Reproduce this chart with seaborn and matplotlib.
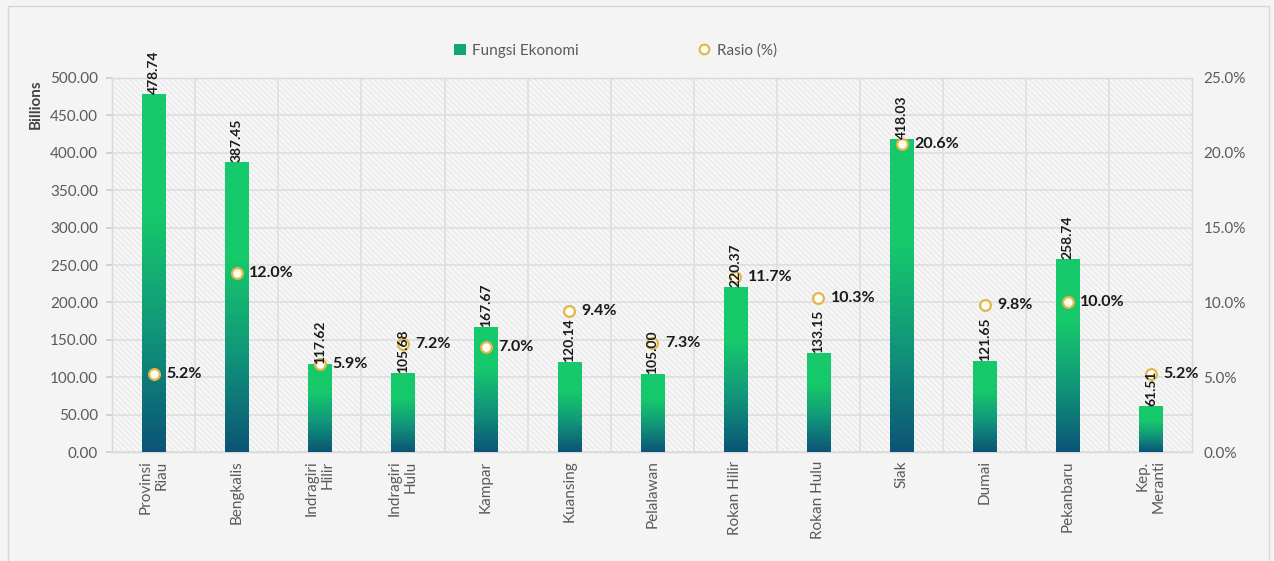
import numpy as np
import pandas as pd
import matplotlib
matplotlib.use("Agg")
import matplotlib.pyplot as plt
import seaborn as sns
from matplotlib.colors import LinearSegmentedColormap
from matplotlib.lines import Line2D
from matplotlib.patches import Patch, Rectangle

# ---------------- data ----------------
regions = ["Provinsi\nRiau", "Bengkalis", "Indragiri\nHilir", "Indragiri\nHulu", "Kampar",
           "Kuansing", "Pelalawan", "Rokan Hilir", "Rokan Hulu", "Siak", "Dumai",
           "Pekanbaru", "Kep.\nMeranti"]
fungsi_ekonomi = [478.74, 387.45, 117.62, 105.68, 167.67, 120.14, 105.00, 220.37,
                  133.15, 418.03, 121.65, 258.74, 61.51]
rasio = [5.2, 12.0, 5.9, 7.2, 7.0, 9.4, 7.3, 11.7, 10.3, 20.6, 9.8, 10.0, 5.2]
left_ticks = [0, 50, 100, 150, 200, 250, 300, 350, 400, 450, 500]
right_ticks = [0, 5, 10, 15, 20, 25]

df = pd.DataFrame({"region": regions, "fungsi": fungsi_ekonomi, "rasio": rasio,
                   "pos": np.arange(len(regions))})

# ---------------- style ----------------
sns.set_theme(style="white")
plt.rcParams["font.family"] = ["Lato", "DejaVu Sans"]
plt.rcParams["hatch.linewidth"] = 0.6
plt.rcParams["hatch.color"] = "#e3e3e3"

BG = "#f4f4f4"
TICK_C = "#5a5a5a"
GRID_C = "#dedede"
TOP_G = "#16c96b"
BOT_G = "#0b5476"
MK_EDGE = "#e2b649"

fig = plt.figure(figsize=(12.74, 5.61), dpi=100, facecolor=BG)
ax = fig.add_axes([0.088, 0.194, 0.848, 0.667])
ax.set_facecolor("#f6f6f6")
ax.patch.set_hatch("\\\\\\\\\\\\")
ax.patch.set_edgecolor("#e3e3e3")

sns.barplot(data=df, x="region", y="fungsi", ax=ax, color=TOP_G, width=0.28,
            saturation=1, zorder=3, linewidth=0)

ax.set_xlim(-0.5, len(regions) - 0.5)
ax.set_ylim(0, 500)

# gradient fills clipped to each bar
cmap = LinearSegmentedColormap.from_list("g", [BOT_G, "#11957a", TOP_G, TOP_G], N=256)
grad = np.linspace(0, 1, 256).reshape(-1, 1)
for p in list(ax.patches):
    x0, w, h = p.get_x(), p.get_width(), p.get_height()
    im = ax.imshow(grad, extent=[x0, x0 + w, 0, h], origin="lower", aspect="auto",
                   cmap=cmap, zorder=3.5, interpolation="bilinear")
    im.set_clip_path(p)
ax.set_xlim(-0.5, len(regions) - 0.5)
ax.set_ylim(0, 500)
ax.set_aspect("auto")

# grid
ax.set_yticks(left_ticks)
ax.set_yticklabels([f"{v:.2f}" for v in left_ticks], color=TICK_C, fontsize=11)
ax.yaxis.grid(True, color=GRID_C, linewidth=1.2, zorder=1)
ax.set_xticks(np.arange(len(regions)))
ax.set_xticklabels(regions, rotation=90, fontsize=11, color=TICK_C, va="top",
                   ha="center", multialignment="right")
ax.set_xticks(np.arange(len(regions) - 1) + 0.5, minor=True)
ax.xaxis.grid(True, which="minor", color=GRID_C, linewidth=1.2, zorder=1)
ax.tick_params(axis="x", which="major", length=0, pad=6)
ax.tick_params(axis="x", which="minor", length=5, color="#cfcfcf")
ax.tick_params(axis="y", length=4, color="#cfcfcf", pad=6)
ax.set_axisbelow(True)
ax.set_xlabel("")
ax.set_ylabel("Billions", fontsize=11, fontweight="bold", color="#444444", labelpad=4)
ax.yaxis.set_label_coords(-0.064, 0.93)
for s in ax.spines.values():
    s.set_color("#d9d9d9")
    s.set_linewidth(1)

# secondary axis
ax2 = ax.twinx()
ax2.set_ylim(0, 25)
sns.scatterplot(data=df, x="pos", y="rasio", ax=ax2, s=60, color="#fffdf3",
                edgecolor=MK_EDGE, linewidth=1.6, zorder=5, legend=False)
ax2.set_xlim(-0.5, len(regions) - 0.5)
ax2.set_yticks(right_ticks)
ax2.set_yticklabels([f"{v:.1f}%" for v in right_ticks], color=TICK_C, fontsize=11)
ax2.tick_params(axis="y", length=0, pad=8)
ax2.set_ylabel("")
ax2.set_xlabel("")
ax2.grid(False)
for s in ax2.spines.values():
    s.set_visible(False)

for i, (v, r) in enumerate(zip(fungsi_ekonomi, rasio)):
    ax2.annotate(f"{r:.1f}%", (i, r), xytext=(9, 0), textcoords="offset points",
                 va="center", ha="left", fontsize=11.5, fontweight="bold",
                 color="#1a1a1a", zorder=7)
    ax2.text(i, v, f"{v:.2f}", transform=ax.transData, rotation=90, ha="center",
             va="bottom", fontsize=10, fontweight="bold", color="#1a1a1a", zorder=8)

# legend
handles = [Patch(facecolor="#11a577", edgecolor="none", label="Fungsi Ekonomi"),
           Line2D([], [], marker="o", linestyle="none", markersize=7,
                  markerfacecolor="#fffdf3", markeredgecolor=MK_EDGE,
                  markeredgewidth=1.5, label="Rasio (%)")]
leg = fig.legend(handles=handles, loc="center", bbox_to_anchor=(0.483, 0.91), ncol=2,
                 frameon=False, fontsize=11, columnspacing=7.8, handlelength=0.8,
                 handletextpad=0.4, handleheight=0.8)
for t in leg.get_texts():
    t.set_color(TICK_C)

# figure border
fig.patches.append(Rectangle((0.006, -0.05), 0.99, 1.04, transform=fig.transFigure,
                             fill=False, edgecolor="#d6d6d6", linewidth=1))

fig.savefig("out.png", dpi=100, facecolor=BG)
